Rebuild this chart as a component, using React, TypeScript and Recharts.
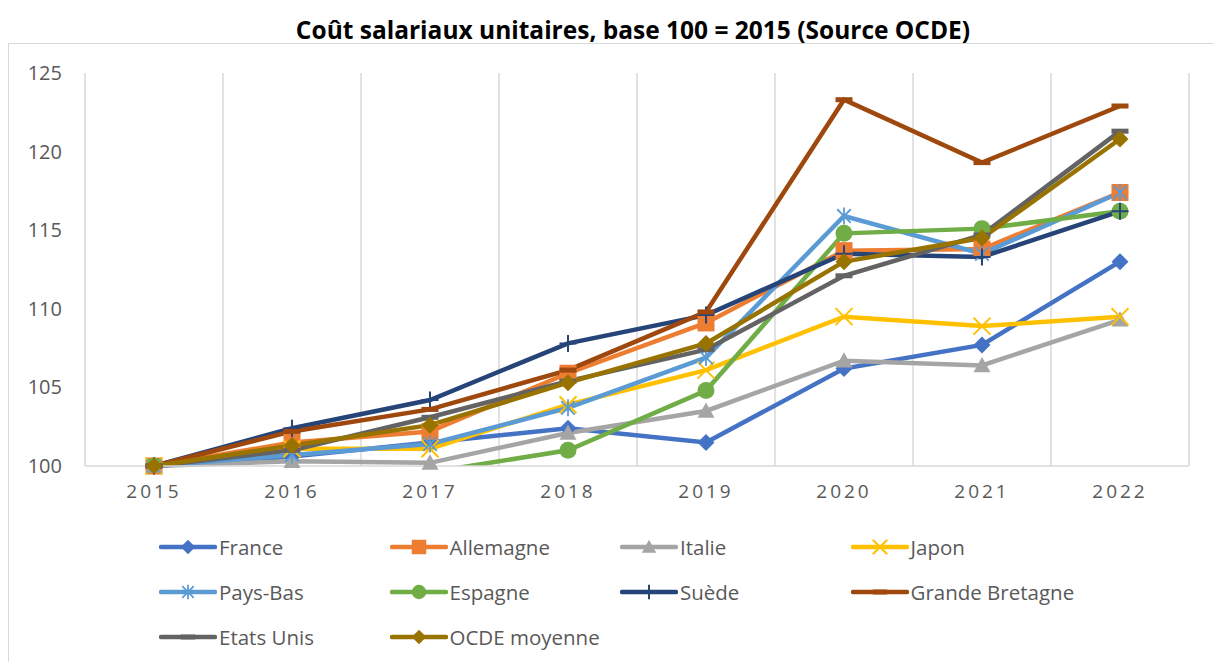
import * as React from "react";
import { LineChart, Line, XAxis, YAxis, CartesianGrid } from "recharts";

const years = ["2015", "2016", "2017", "2018", "2019", "2020", "2021", "2022"];

const france = [100, 100.6, 101.5, 102.4, 101.5, 106.2, 107.7, 113.0];
const allemagne = [100, 101.5, 102.2, 105.9, 109.1, 113.7, 113.8, 117.4];
const italie = [100, 100.3, 100.2, 102.1, 103.5, 106.7, 106.4, 109.3];
const japon = [100, 101.1, 101.1, 103.9, 106.1, 109.5, 108.9, 109.5];
const paysBas = [100, 100.7, 101.4, 103.7, 106.9, 115.9, 113.5, 117.4];
const espagne = [100, 98.8, 99.6, 101.0, 104.8, 114.8, 115.1, 116.2];
const suede = [100, 102.4, 104.2, 107.8, 109.6, 113.5, 113.3, 116.2];
const grandeBretagne = [100, 102.2, 103.6, 106.1, 109.8, 123.3, 119.3, 122.9];
const etatsUnis = [100, 101.0, 103.1, 105.4, 107.4, 112.1, 114.7, 121.3];
const ocde = [100, 101.3, 102.6, 105.3, 107.8, 113.0, 114.5, 120.8];

const yTicks = [100, 105, 110, 115, 120, 125];

type Shape = "diamond" | "square" | "triangle" | "x" | "star" | "circle" | "plus" | "dash";

interface ISeries {
    key: string;
    name: string;
    color: string;
    shape: Shape;
    values: number[];
}

const series: ISeries[] = [
    { key: "fr", name: "France", color: "#4472C4", shape: "diamond", values: france },
    { key: "de", name: "Allemagne", color: "#ED7D31", shape: "square", values: allemagne },
    { key: "it", name: "Italie", color: "#A5A5A5", shape: "triangle", values: italie },
    { key: "jp", name: "Japon", color: "#FFC000", shape: "x", values: japon },
    { key: "nl", name: "Pays-Bas", color: "#5B9BD5", shape: "star", values: paysBas },
    { key: "es", name: "Espagne", color: "#70AD47", shape: "circle", values: espagne },
    { key: "se", name: "Suède", color: "#264478", shape: "plus", values: suede },
    { key: "gb", name: "Grande Bretagne", color: "#9E480E", shape: "dash", values: grandeBretagne },
    { key: "us", name: "Etats Unis", color: "#636363", shape: "dash", values: etatsUnis },
    { key: "oc", name: "OCDE moyenne", color: "#997300", shape: "diamond", values: ocde },
];

const data = years.map((y, i) => {
    const row: any = { year: y };
    series.forEach((s) => { row[s.key] = s.values[i]; });
    return row;
});

const FONT = "'Open Sans', sans-serif";
const TEXT = "#595959";

// marker shapes, sized like the Excel ones (about 17px)
function marker(shape: Shape, cx: number, cy: number, color: string, k?: any, scale = 1) {
    const h = 8.5 * scale;
    switch (shape) {
        case "diamond":
            return <path key={k} d={`M${cx},${cy - h}L${cx + h},${cy}L${cx},${cy + h}L${cx - h},${cy}Z`} fill={color} />;
        case "square":
            return <rect key={k} x={cx - h} y={cy - h} width={2 * h} height={2 * h} fill={color} />;
        case "triangle":
            return <path key={k} d={`M${cx},${cy - h}L${cx + h},${cy + h * 0.8}L${cx - h},${cy + h * 0.8}Z`} fill={color} />;
        case "circle":
            return <circle key={k} cx={cx} cy={cy} r={h} fill={color} />;
        case "x":
            return <path key={k} d={`M${cx - h},${cy - h}L${cx + h},${cy + h}M${cx + h},${cy - h}L${cx - h},${cy + h}`} stroke={color} strokeWidth={2} fill="none" />;
        case "star":
            return <path key={k} d={`M${cx - h * 0.8},${cy - h * 0.8}L${cx + h * 0.8},${cy + h * 0.8}M${cx + h * 0.8},${cy - h * 0.8}L${cx - h * 0.8},${cy + h * 0.8}M${cx},${cy - h}L${cx},${cy + h}`} stroke={color} strokeWidth={1.8} fill="none" />;
        case "plus":
            return <path key={k} d={`M${cx - h},${cy}L${cx + h},${cy}M${cx},${cy - h}L${cx},${cy + h}`} stroke={color} strokeWidth={2} fill="none" />;
        case "dash":
            return <rect key={k} x={cx - h} y={cy - 2.5} width={2 * h} height={5} fill={color} />;
    }
    return null;
}

const makeDot = (s: ISeries) => (props: any) => {
    const { cx, cy, value, index } = props;
    if (cx == null || cy == null || value < 100) return <g key={`${s.key}-${index}`} />;
    return marker(s.shape, cx, cy, s.color, `${s.key}-${index}`);
};

const YearTick = (props: any) => {
    const { x, y, payload } = props;
    return (
        <text x={x} y={y + 24} textAnchor="middle" fill={TEXT} fontSize={19} fontFamily={FONT} letterSpacing={3}>
            {payload.value}
        </text>
    );
};

const ValueTick = (props: any) => {
    const { y, payload } = props;
    return (
        <text x={62} y={y} dy={7} textAnchor="end" fill={TEXT} fontSize={20} fontFamily={FONT}>
            {payload.value}
        </text>
    );
};

const gridGen = (props: any) => {
    const left = props?.offset?.left ?? 85;
    const width = props?.offset?.width ?? 1104;
    const pts: number[] = [];
    for (let i = 0; i <= years.length; i++) pts.push(left + (i * width) / years.length);
    return pts;
};

export default function App() {
    return (
        <div style={{ position: "absolute", left: 0, top: 0, width: 1214, height: 662, overflow: "hidden", background: "#fff", fontFamily: FONT }}>
            <div style={{ position: "absolute", left: 8, top: 43, width: 1240, height: 700, border: "1px solid #d9d9d9" }} />
            <div style={{ position: "absolute", left: 0, top: 12, width: 1266, textAlign: "center", fontSize: 24.5, fontWeight: 700, color: "#000", lineHeight: "36px" }}>
                Coût salariaux unitaires, base 100 = 2015 (Source OCDE)
            </div>
            <div style={{ position: "absolute", left: 0, top: 0 }}>
                <LineChart width={1214} height={662} data={data} margin={{ top: 73, right: 25, left: 25, bottom: 156 }}>
                    <CartesianGrid horizontal={false} stroke="#d9d9d9" strokeWidth={1.5} verticalCoordinatesGenerator={gridGen} />
                    <XAxis dataKey="year" height={40} padding={{ left: 69, right: 69 }} tickLine={false}
                        axisLine={{ stroke: "#d9d9d9", strokeWidth: 1.5 }} tick={<YearTick />} interval={0} />
                    <YAxis yAxisId="main" width={60} domain={[100, 125]} ticks={yTicks} tickLine={false}
                        axisLine={false} tick={<ValueTick />} interval={0} />
                    <YAxis yAxisId="clip" hide domain={[100, 125]} allowDataOverflow />
                    {series.map((s) => (
                        <Line key={s.key} yAxisId={s.key === "es" ? "clip" : "main"} dataKey={s.key} name={s.name}
                            stroke={s.color} strokeWidth={4.5} type="linear" dot={makeDot(s)} activeDot={false}
                            isAnimationActive={false} />
                    ))}
                </LineChart>
            </div>
            {series.map((s, i) => {
                const col = i % 4;
                const row = Math.floor(i / 4);
                const left = 159 + col * 230.5;
                const top = 547 + row * 45;
                return (
                    <div key={s.key} style={{ position: "absolute", left, top: top - 15, height: 30, display: "flex", alignItems: "center" }}>
                        <svg width={58} height={30}>
                            <line x1={2} y1={15} x2={56} y2={15} stroke={s.color} strokeWidth={4.5} strokeLinecap="round" />
                            {marker(s.shape, 29, 15, s.color, undefined, 0.85)}
                        </svg>
                        <span style={{ fontSize: 20.5, color: TEXT, marginLeft: 2, whiteSpace: "nowrap" }}>{s.name}</span>
                    </div>
                );
            })}
        </div>
    );
}
